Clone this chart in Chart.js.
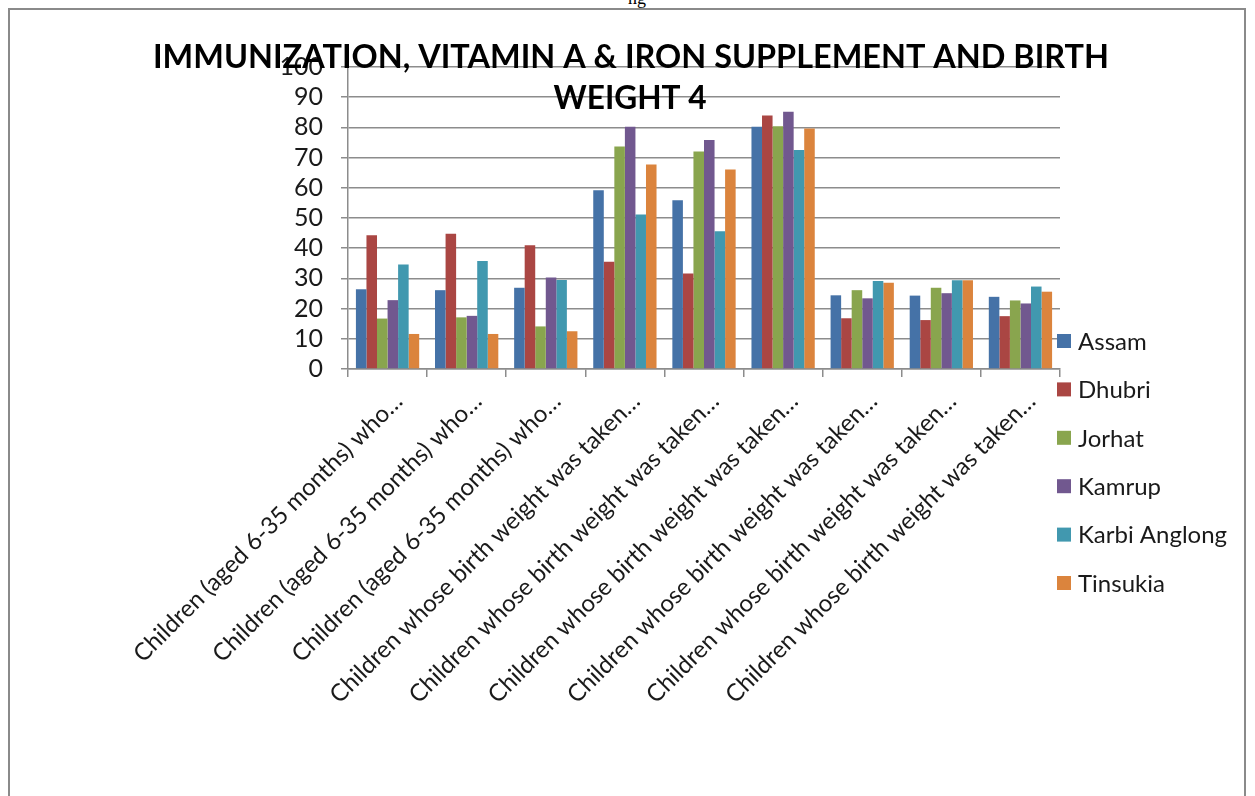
<!DOCTYPE html>
<html>
<head>
<meta charset="utf-8">
<script src="https://cdn.jsdelivr.net/npm/chart.js@4.4.1/dist/chart.umd.min.js"></script>
<style>
  html, body { margin: 0; padding: 0; background: #fff; }
  #wrap { position: relative; width: 1255px; height: 796px; overflow: hidden; }
  #chart { position: absolute; left: 0; top: 0; }
  #frame { position: absolute; left: 8px; top: 8px; width: 1238px; height: 820px;
           border: 2px solid #8a8a8a; box-sizing: border-box; pointer-events: none; }
  #note { position: absolute; left: 628px; top: -12px; font: 18px "Liberation Serif", serif; color: #000; }
</style>
</head>
<body>
<div id="wrap">
  <div id="note">ng</div>
  <canvas id="chart" width="1255" height="796"></canvas>
  <div id="frame"></div>
</div>
<script>
const categories = [
  "Children (aged 6-35 months) who…",
  "Children (aged 6-35 months) who…",
  "Children (aged 6-35 months) who…",
  "Children whose birth weight was taken…",
  "Children whose birth weight was taken…",
  "Children whose birth weight was taken…",
  "Children whose birth weight was taken…",
  "Children whose birth weight was taken…",
  "Children whose birth weight was taken…"
];
const seriesNames = ["Assam", "Dhubri", "Jorhat", "Kamrup", "Karbi Anglong", "Tinsukia"];
const assam        = [26.4, 26.1, 26.9, 59.2, 55.9, 80.2, 24.4, 24.3, 23.9];
const dhubri       = [44.3, 44.8, 41.0, 35.5, 31.6, 83.9, 16.8, 16.2, 17.5];
const jorhat       = [16.7, 17.1, 14.1, 73.7, 72.0, 80.4, 26.1, 26.9, 22.7];
const kamrup       = [22.8, 17.6, 30.3, 80.2, 75.8, 85.2, 23.4, 25.1, 21.7];
const karbiAnglong = [34.6, 35.8, 29.5, 51.2, 45.6, 72.5, 29.1, 29.4, 27.3];
const tinsukia     = [11.6, 11.6, 12.5, 67.7, 66.1, 79.6, 28.6, 29.4, 25.6];
const yMin = 0, yMax = 100, yStep = 10;
const titleLines = ["IMMUNIZATION, VITAMIN A & IRON SUPPLEMENT AND BIRTH", "WEIGHT 4"];

const colors = ["#4572A7", "#AA4643", "#89A54E", "#71588F", "#4198AF", "#DB843D"];
const values = [assam, dhubri, jorhat, kamrup, karbiAnglong, tinsukia];
const gridColor = "#8c8c8c";

// title sits over the plot, and legend sits low on the right, so both are drawn by hand
const overlay = {
  id: "overlay",
  afterDraw(chart) {
    const ctx = chart.ctx;
    ctx.save();
    ctx.fillStyle = "#000";
    ctx.textAlign = "center";
    ctx.textBaseline = "alphabetic";
    ctx.font = "bold 33px Lato";
    ctx.fillText(titleLines[0], 631, 68, 956);
    ctx.fillText(titleLines[1], 630, 109, 153);

    ctx.textAlign = "left";
    ctx.textBaseline = "middle";
    ctx.font = "24px Lato";
    chart.data.datasets.forEach((ds, i) => {
      const y = 341 + i * 48.4;
      ctx.fillStyle = ds.backgroundColor;
      ctx.fillRect(1057, y - 7, 14, 14);
      ctx.fillStyle = "#1a1a1a";
      ctx.fillText(ds.label, 1078, y + 1);
    });
    ctx.restore();
  }
};

new Chart(document.getElementById("chart"), {
  type: "bar",
  data: {
    labels: categories,
    datasets: seriesNames.map((name, i) => ({
      label: name,
      data: values[i],
      backgroundColor: colors[i],
      borderWidth: 0,
      categoryPercentage: 0.8,
      barPercentage: 1.0
    }))
  },
  options: {
    responsive: false,
    animation: false,
    devicePixelRatio: 1,
    layout: { padding: { left: 0, right: 195, top: 67, bottom: 0 } },
    plugins: {
      legend: { display: false },
      title: { display: false },
      tooltip: { enabled: false }
    },
    scales: {
      x: {
        afterFit: (s) => { s.height = 427; },
        grid: { display: true, drawOnChartArea: false, tickLength: 8, color: gridColor, lineWidth: 1.5 },
        border: { display: true, color: gridColor, width: 1.5 },
        ticks: {
          autoSkip: false, minRotation: 45, maxRotation: 45, padding: 10, labelOffset: 11,
          color: "#1a1a1a", font: { family: "Lato", size: 24 }
        }
      },
      y: {
        min: yMin, max: yMax,
        afterFit: (s) => { s.width = 348; },
        grid: { color: gridColor, lineWidth: 1.5, tickLength: 7 },
        border: { display: true, color: gridColor, width: 1.5 },
        ticks: {
          stepSize: yStep, padding: 18, autoSkip: false,
          color: "#1a1a1a", font: { family: "Lato", size: 25 }
        }
      }
    }
  },
  plugins: [overlay]
});
</script>
</body>
</html>
